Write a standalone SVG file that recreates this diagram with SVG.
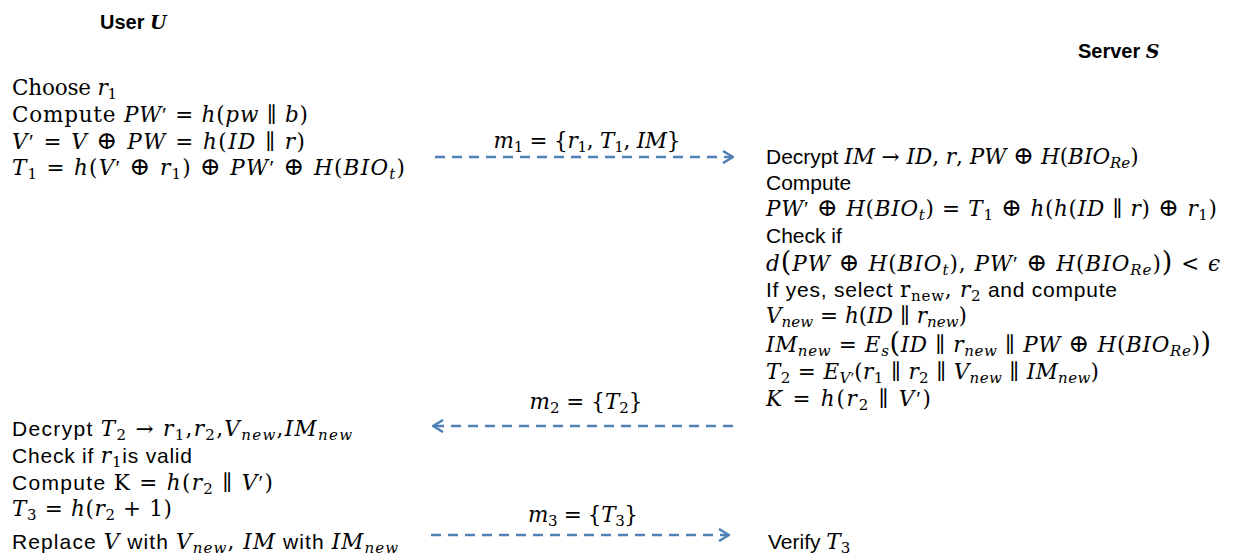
<svg xmlns="http://www.w3.org/2000/svg" width="1247" height="556" viewBox="0 0 1247 556">
  <style>
    text { fill: #000; }
    .sans { font-family: "Liberation Sans", Arial, sans-serif; font-size: 21px; }
    .head { font-family: "Liberation Sans", Arial, sans-serif; font-size: 20px; font-weight: bold; }
    .hv { font-family: "DejaVu Serif", serif; font-style: italic; font-weight: bold; font-size: 19px; }
    .m { font-family: "DejaVu Serif", "Liberation Serif", serif; font-size: 21.5px; }
    .i { font-style: italic; }
    .p { font-style: normal; font-family: "Liberation Serif", serif; }
    .sb { font-size: 15px; baseline-shift: -4px; }
    .sbi { font-size: 15px; baseline-shift: -4px; font-style: italic; }
    .op { font-size: 25px; }
    .big { font-size: 27px; }
    .msg { fill: none; stroke: #4f81b4; stroke-width: 2.5; stroke-dasharray: 10 7; }
  </style>
  <defs>
    <marker id="chev" viewBox="0 0 12 14" refX="11" refY="7" markerWidth="12" markerHeight="14" markerUnits="userSpaceOnUse" orient="auto">
      <path d="M1,1 L11,7 L1,13" fill="none" stroke="#4f81b4" stroke-width="2.5"/>
    </marker>
  </defs>

  <!-- party headings -->
  <g id="user-head">
    <text x="100" y="29" class="head">User <tspan class="hv">U</tspan></text>
  </g>
  <g id="server-head">
    <text x="1078" y="58" class="head">Server <tspan class="hv">S</tspan></text>
  </g>

  <!-- user: first step -->
  <g id="user-step1" class="m">
    <text x="12" y="95" textLength="105">Choose <tspan class="i">r</tspan><tspan class="sb">1</tspan></text>
    <text x="12" y="122" textLength="296">Compute <tspan class="i">PW</tspan><tspan class="p">′</tspan> = <tspan class="i">h</tspan>(<tspan class="i">pw</tspan> ∥ <tspan class="i">b</tspan>)</text>
    <text x="12" y="149" textLength="293"><tspan class="i">V</tspan><tspan class="p">′</tspan> = <tspan class="i">V</tspan> <tspan class="op">⊕</tspan> <tspan class="i">PW</tspan> = <tspan class="i">h</tspan>(<tspan class="i">ID</tspan> ∥ <tspan class="i">r</tspan>)</text>
    <text x="12" y="175" textLength="393"><tspan class="i">T</tspan><tspan class="sb">1</tspan><tspan> = </tspan><tspan class="i">h</tspan>(<tspan class="i">V</tspan><tspan class="p">′</tspan> <tspan class="op">⊕</tspan> <tspan class="i">r</tspan><tspan class="sb">1</tspan><tspan>) </tspan><tspan class="op">⊕</tspan> <tspan class="i">PW</tspan><tspan class="p">′</tspan> <tspan class="op">⊕</tspan> <tspan class="i">H</tspan>(<tspan class="i">BIO</tspan><tspan class="sbi">t</tspan><tspan>)</tspan></text>
  </g>

  <!-- server: verification and reply -->
  <g id="server-step" class="m">
    <text x="766" y="164"><tspan class="sans">Decrypt </tspan><tspan class="i">IM</tspan> → <tspan class="i">ID</tspan>, <tspan class="i">r</tspan>, <tspan class="i">PW</tspan> <tspan class="op">⊕</tspan> <tspan class="i">H</tspan>(<tspan class="i">BIO</tspan><tspan class="sbi">Re</tspan><tspan>)</tspan></text>
    <text x="766" y="190" class="sans">Compute</text>
    <text x="766" y="216" textLength="451"><tspan class="i">PW</tspan><tspan class="p">′</tspan> <tspan class="op">⊕</tspan> <tspan class="i">H</tspan>(<tspan class="i">BIO</tspan><tspan class="sbi">t</tspan><tspan>) = </tspan><tspan class="i">T</tspan><tspan class="sb">1</tspan><tspan> </tspan><tspan class="op">⊕</tspan> <tspan class="i">h</tspan>(<tspan class="i">h</tspan>(<tspan class="i">ID</tspan> ∥ <tspan class="i">r</tspan>) <tspan class="op">⊕</tspan> <tspan class="i">r</tspan><tspan class="sb">1</tspan><tspan>)</tspan></text>
    <text x="766" y="243" class="sans">Check if</text>
    <text x="766" y="271" textLength="454"><tspan class="i">d</tspan><tspan class="big">(</tspan><tspan class="i">PW</tspan> <tspan class="op">⊕</tspan> <tspan class="i">H</tspan>(<tspan class="i">BIO</tspan><tspan class="sbi">t</tspan><tspan>), </tspan><tspan class="i">PW</tspan><tspan class="p">′</tspan> <tspan class="op">⊕</tspan> <tspan class="i">H</tspan>(<tspan class="i">BIO</tspan><tspan class="sbi">Re</tspan><tspan>)</tspan><tspan class="big">)</tspan> &lt; <tspan class="i">ϵ</tspan></text>
    <text x="766" y="297" textLength="351"><tspan class="sans">If yes, select </tspan>r<tspan class="sb">new</tspan><tspan>, </tspan><tspan class="i">r</tspan><tspan class="sb">2</tspan><tspan class="sans"> and  compute</tspan></text>
    <text x="766" y="323" textLength="201"><tspan class="i">V</tspan><tspan class="sbi">new</tspan><tspan> = </tspan><tspan class="i">h</tspan>(<tspan class="i">ID</tspan> ∥ <tspan class="i">r</tspan><tspan class="sbi">new</tspan><tspan>)</tspan></text>
    <text x="766" y="352" textLength="445"><tspan class="i">IM</tspan><tspan class="sbi">new</tspan><tspan> = </tspan><tspan class="i">E</tspan><tspan class="sbi">s</tspan><tspan class="big">(</tspan><tspan class="i">ID</tspan> ∥ <tspan class="i">r</tspan><tspan class="sbi">new</tspan><tspan> ∥ </tspan><tspan class="i">PW</tspan> <tspan class="op">⊕</tspan> <tspan class="i">H</tspan>(<tspan class="i">BIO</tspan><tspan class="sbi">Re</tspan><tspan>)</tspan><tspan class="big">)</tspan></text>
    <text x="766" y="379" textLength="333"><tspan class="i">T</tspan><tspan class="sb">2</tspan><tspan> = </tspan><tspan class="i">E</tspan><tspan class="sbi">V</tspan><tspan class="sb p">′</tspan><tspan>(</tspan><tspan class="i">r</tspan><tspan class="sb">1</tspan><tspan> ∥ </tspan><tspan class="i">r</tspan><tspan class="sb">2</tspan><tspan> ∥ </tspan><tspan class="i">V</tspan><tspan class="sbi">new</tspan><tspan> ∥ </tspan><tspan class="i">IM</tspan><tspan class="sbi">new</tspan><tspan>)</tspan></text>
    <text x="766" y="406" textLength="165"><tspan class="i">K</tspan> = <tspan class="i">h</tspan>(<tspan class="i">r</tspan><tspan class="sb">2</tspan><tspan> ∥ </tspan><tspan class="i">V</tspan><tspan class="p">′</tspan>)</text>
  </g>

  <!-- user: second step -->
  <g id="user-step2" class="m">
    <text x="12" y="436" textLength="340"><tspan class="sans">Decrypt </tspan><tspan class="i">T</tspan><tspan class="sb">2</tspan><tspan> → </tspan><tspan class="i">r</tspan><tspan class="sb">1</tspan><tspan>,</tspan><tspan class="i">r</tspan><tspan class="sb">2</tspan><tspan>,</tspan><tspan class="i">V</tspan><tspan class="sbi">new</tspan><tspan>,</tspan><tspan class="i">IM</tspan><tspan class="sbi">new</tspan></text>
    <text x="12" y="463" textLength="180"><tspan class="sans">Check if </tspan><tspan class="i">r</tspan><tspan class="sb">1</tspan><tspan class="sans">is valid</tspan></text>
    <text x="12" y="490" textLength="261"><tspan class="sans">Compute </tspan>K = <tspan class="i">h</tspan>(<tspan class="i">r</tspan><tspan class="sb">2</tspan><tspan> ∥ </tspan><tspan class="i">V</tspan><tspan class="p">′</tspan>)</text>
    <text x="12" y="516" textLength="160"><tspan class="i">T</tspan><tspan class="sb">3</tspan><tspan> = </tspan><tspan class="i">h</tspan>(<tspan class="i">r</tspan><tspan class="sb">2</tspan><tspan> + 1)</tspan></text>
    <text x="12" y="549" textLength="386"><tspan class="sans">Replace </tspan><tspan class="i">V</tspan><tspan class="sans">  with </tspan><tspan class="i">V</tspan><tspan class="sbi">new</tspan><tspan>, </tspan><tspan class="i">IM</tspan><tspan class="sans"> with </tspan><tspan class="i">IM</tspan><tspan class="sbi">new</tspan></text>
  </g>

  <!-- server: final check -->
  <g id="server-verify" class="m">
    <text x="768" y="549"><tspan class="sans">Verify </tspan><tspan class="i">T</tspan><tspan class="sb">3</tspan></text>
  </g>

  <!-- exchanged messages -->
  <g id="messages">
    <line class="msg" x1="435" y1="157" x2="733" y2="157" marker-end="url(#chev)"/>
    <text x="587" y="148" class="m" text-anchor="middle" textLength="187"><tspan class="i">m</tspan><tspan class="sb">1</tspan><tspan> = {</tspan><tspan class="i">r</tspan><tspan class="sb">1</tspan><tspan>, </tspan><tspan class="i">T</tspan><tspan class="sb">1</tspan><tspan>, </tspan><tspan class="i">IM</tspan>}</text>

    <line class="msg" x1="733" y1="426" x2="433" y2="426" marker-end="url(#chev)"/>
    <text x="586" y="409" class="m" text-anchor="middle" textLength="113"><tspan class="i">m</tspan><tspan class="sb">2</tspan><tspan> = {</tspan><tspan class="i">T</tspan><tspan class="sb">2</tspan><tspan>}</tspan></text>

    <line class="msg" x1="431" y1="535" x2="729" y2="535" marker-end="url(#chev)"/>
    <text x="583" y="522" class="m" text-anchor="middle" textLength="110"><tspan class="i">m</tspan><tspan class="sb">3</tspan><tspan> = {</tspan><tspan class="i">T</tspan><tspan class="sb">3</tspan><tspan>}</tspan></text>
  </g>
</svg>
